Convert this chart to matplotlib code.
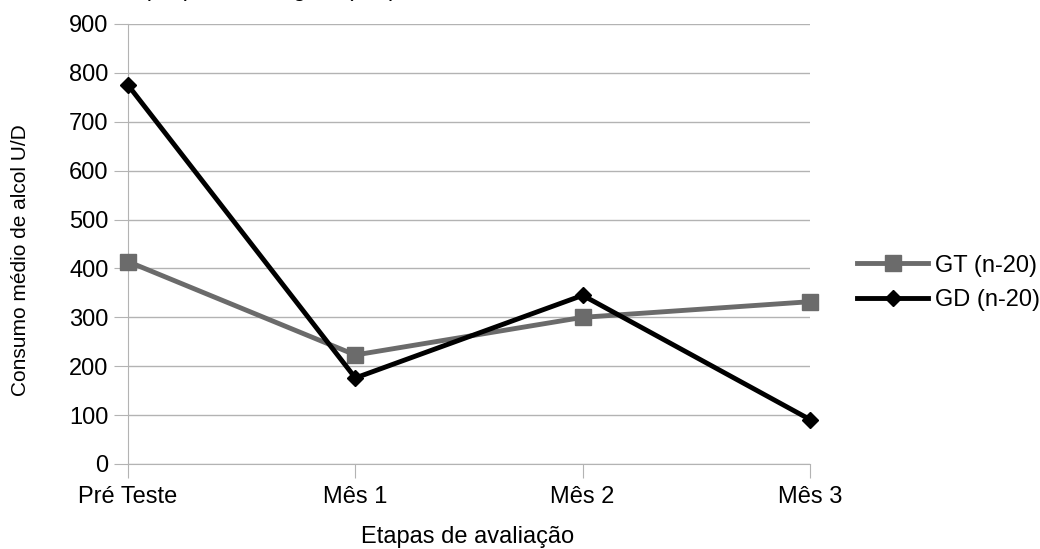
import matplotlib
matplotlib.use("Agg")
import matplotlib.pyplot as plt
from matplotlib.lines import Line2D

# consumo médio por etapa
etapas = ["Pré Teste", "Mês 1", "Mês 2", "Mês 3"]
gt_vals = [414, 223, 300, 332]
gd_vals = [775, 176, 345, 91]
y_ticks = [0, 100, 200, 300, 400, 500, 600, 700, 800, 900]

plt.rcParams["font.family"] = ["Liberation Sans", "DejaVu Sans"]

W, H = 1040, 549
fig = plt.figure(figsize=(W / 100, H / 100), dpi=100)
ax = fig.add_axes([128 / W, 1 - 464 / H, (810 - 128) / W, (464 - 24) / H])

x = list(range(len(etapas)))
ax.plot(x, gt_vals, color="#6b6b6b", lw=3.5, marker="s", ms=12, mec="#6b6b6b", zorder=3, clip_on=False)
ax.plot(x, gd_vals, color="black", lw=3.5, marker="D", ms=8, zorder=4, clip_on=False)

ax.set_xlim(0, 3)
ax.set_ylim(0, 900)
ax.set_yticks(y_ticks)
ax.set_xticks(x)
ax.set_xticklabels(etapas, fontsize=17)
ax.tick_params(axis="y", labelsize=17, length=10, color="#b3b3b3", pad=4)
ax.tick_params(axis="x", length=10, color="#b3b3b3", pad=6)
ax.grid(axis="y", color="#b3b3b3", lw=1)
ax.set_axisbelow(True)
for s in ["top", "right"]:
    ax.spines[s].set_visible(False)
ax.spines["left"].set_color("#b3b3b3")
ax.spines["bottom"].set_color("#b3b3b3")

fig.text(21 / W, 1 - 260 / H, "Consumo médio de alcol U/D", fontsize=15,
         rotation=90, ha="center", va="center")
fig.text(468 / W, 1 - 543 / H, "Etapas de avaliação", fontsize=17,
         ha="center", va="baseline")

handles = [
    Line2D([], [], color="#6b6b6b", lw=3.5, marker="s", ms=12),
    Line2D([], [], color="black", lw=3.5, marker="D", ms=8),
]
fig.legend(handles, ["GT (n-20)", "GD (n-20)"], loc="center left",
           bbox_to_anchor=(836 / W, 1 - 283 / H), frameon=False,
           fontsize=17, handlelength=3.0, labelspacing=0.55, handletextpad=0.3)

# título cortado no topo da figura
fig.text(143 / W, 1 + 4 / H, "(GT) e Abordagem (GD)", fontsize=17, va="baseline")

fig.savefig("out.png", dpi=100)
